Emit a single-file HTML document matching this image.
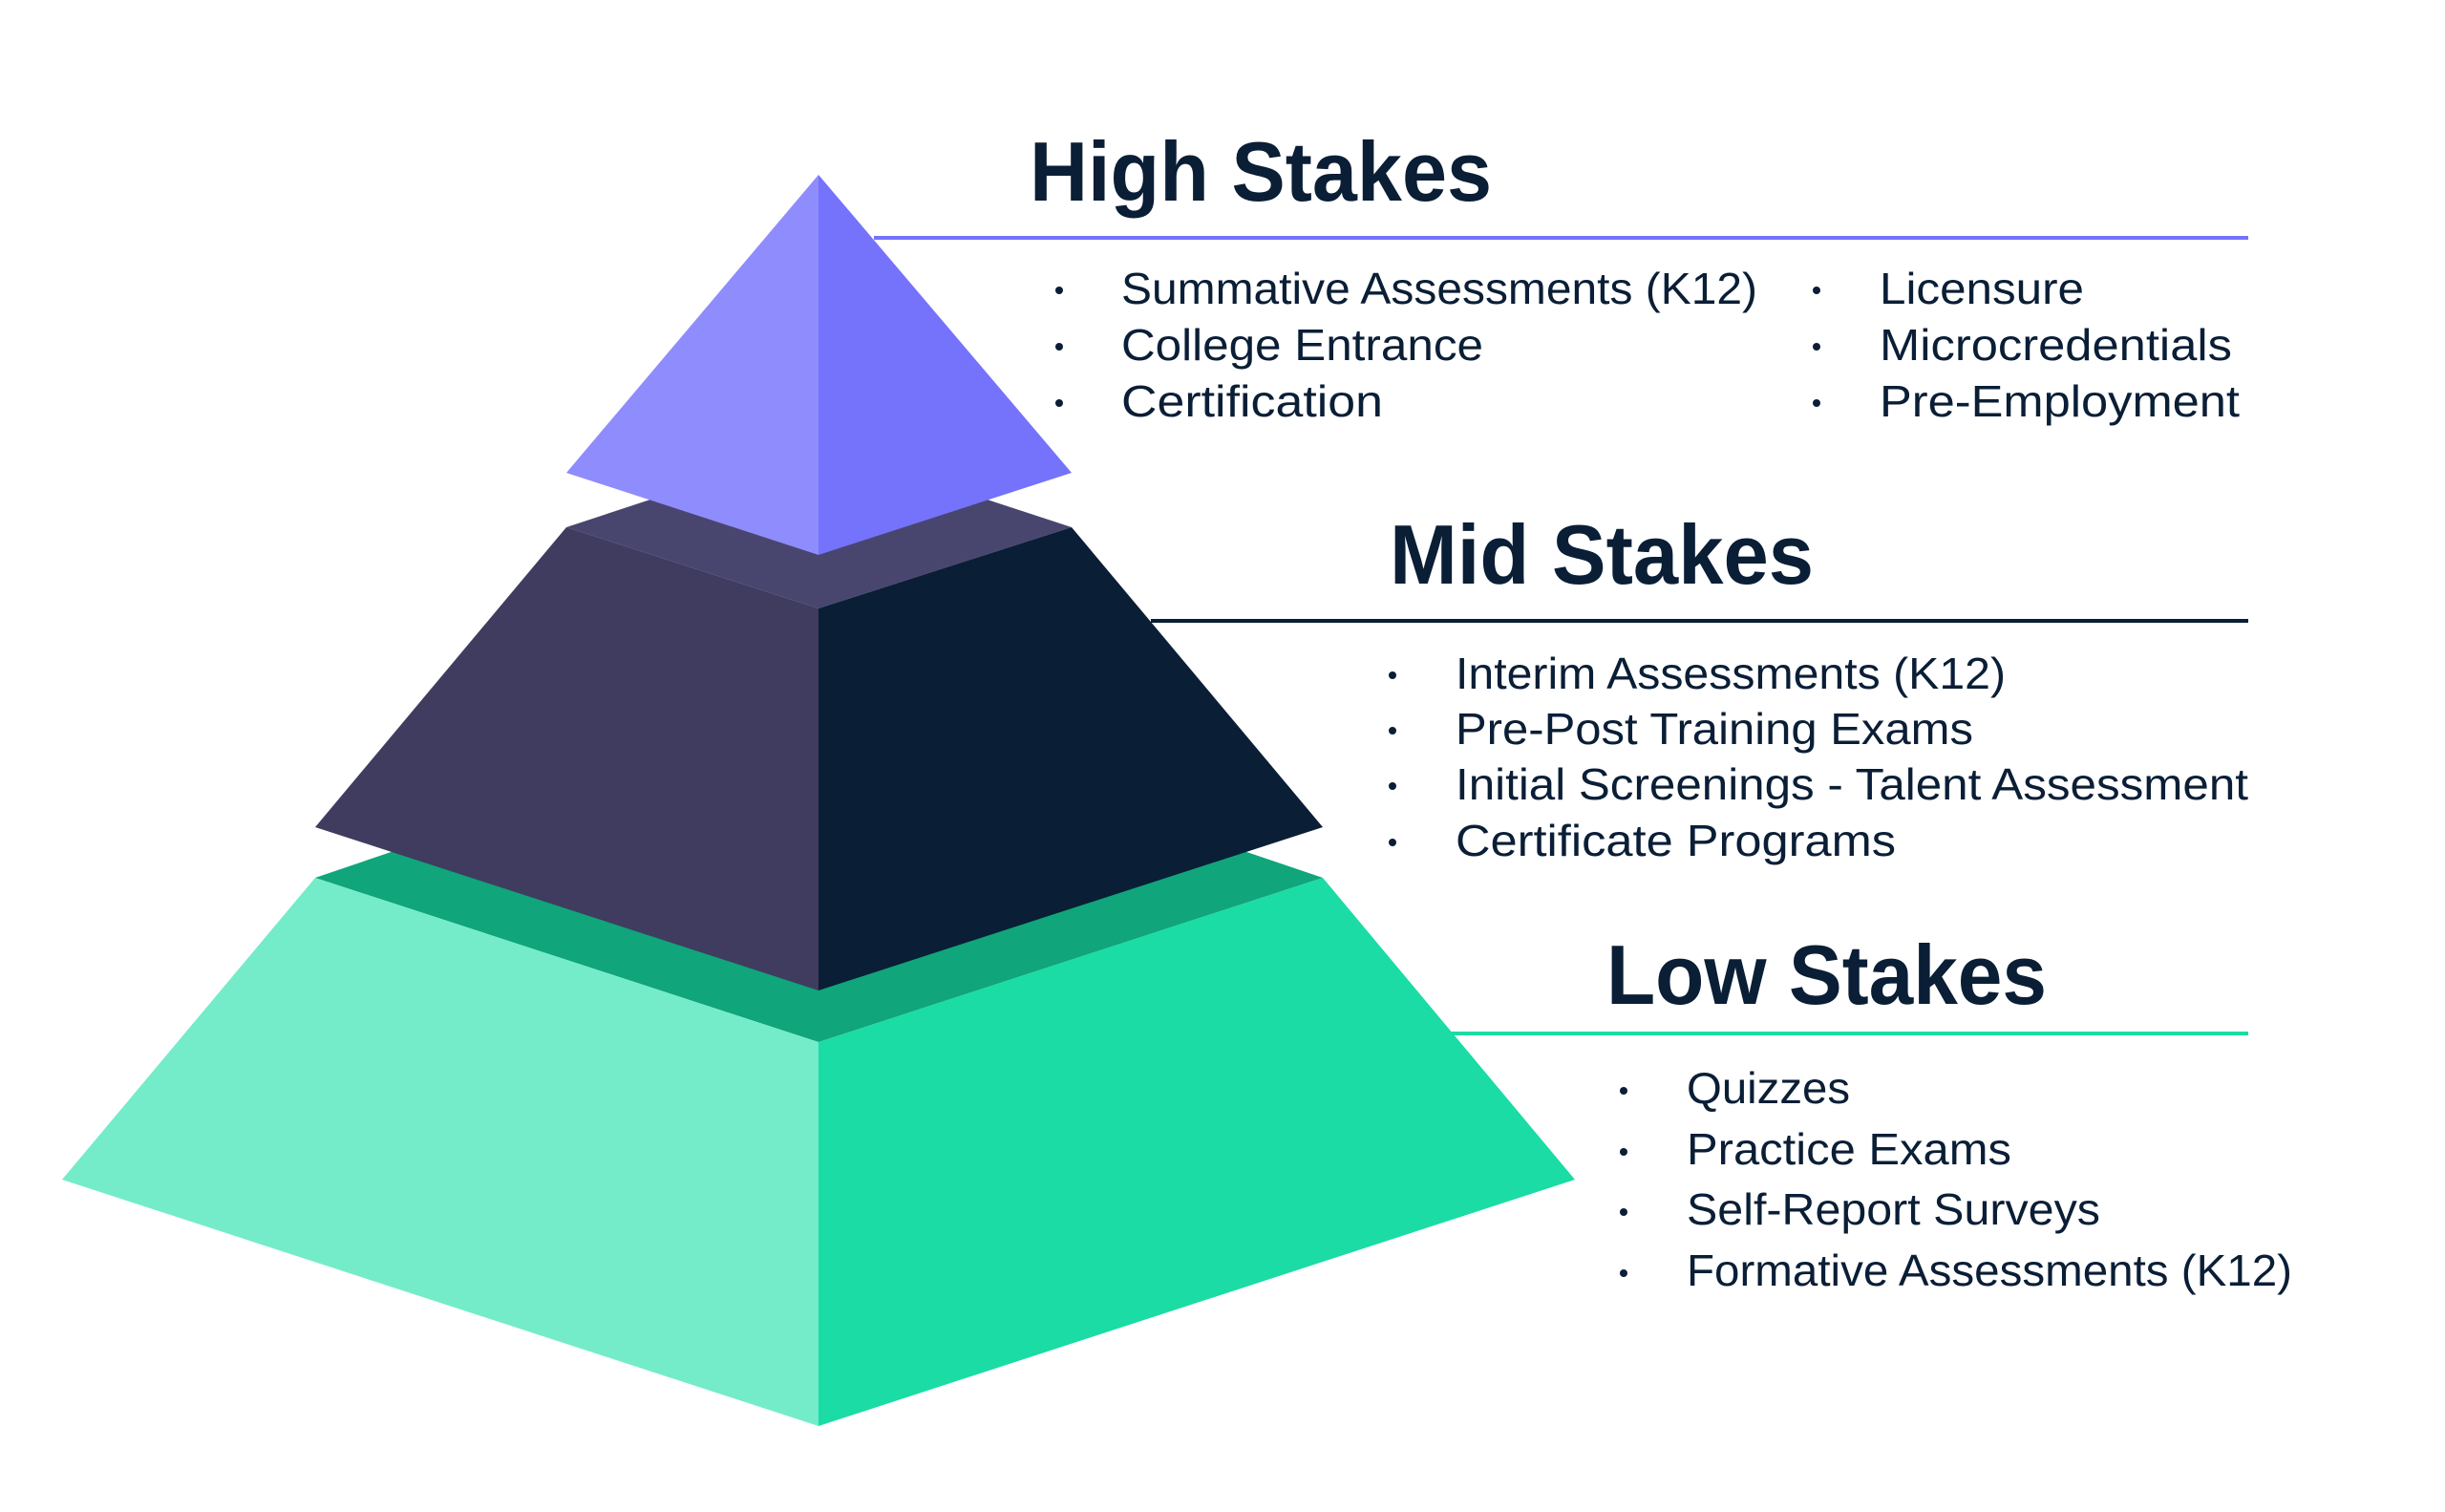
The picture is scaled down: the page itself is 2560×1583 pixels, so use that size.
<!DOCTYPE html>
<html><head><meta charset="utf-8"><style>
html,body{margin:0;padding:0;background:#fff;}
svg{display:block;}
.t{font-family:"Liberation Sans",sans-serif;font-weight:bold;fill:#0a1e36;font-size:88px;}
.i{font-family:"Liberation Sans",sans-serif;fill:#0a1e36;font-size:46px;}
</style></head><body>
<svg width="2560" height="1583" viewBox="0 0 2560 1583" xmlns="http://www.w3.org/2000/svg">
<polygon points="330,919 857,740 1385,919 857,1091" fill="#10a57a"/>
<polygon points="330,919 857,1091 857,1493 65,1235" fill="#74ecc9"/>
<polygon points="1385,919 857,1091 857,1493 1649,1235" fill="#1adca4"/>
<polygon points="593,552 857,465 1122,552 857,637" fill="#48466e"/>
<polygon points="593,552 857,637 857,1037 330,866" fill="#3f3c60"/>
<polygon points="1122,552 857,637 857,1037 1385,866" fill="#0a1e36"/>
<polygon points="857,183 857,581 593,495" fill="#8f8cfd"/>
<polygon points="857,183 857,581 1122,495" fill="#7572fb"/>
<rect x="915" y="247" width="1439" height="4" fill="#7572fb"/>
<rect x="1205" y="648" width="1149" height="4" fill="#0a1e36"/>
<rect x="1519" y="1080" width="835" height="4" fill="#1adca4"/>
<text class="t" x="1078" y="210" textLength="484" lengthAdjust="spacingAndGlyphs">High Stakes</text>
<text class="t" x="1455" y="611" textLength="444" lengthAdjust="spacingAndGlyphs">Mid Stakes</text>
<text class="t" x="1682" y="1051" textLength="461" lengthAdjust="spacingAndGlyphs">Low Stakes</text>
<g fill="#0a1e36">
<circle cx="1109" cy="304" r="4"/><circle cx="1109" cy="363" r="4"/><circle cx="1109" cy="422" r="4"/>
<circle cx="1902" cy="304" r="4"/><circle cx="1902" cy="363" r="4"/><circle cx="1902" cy="422" r="4"/>
<circle cx="1458" cy="707" r="4"/><circle cx="1458" cy="765" r="4"/><circle cx="1458" cy="823" r="4"/><circle cx="1458" cy="882" r="4"/>
<circle cx="1700" cy="1142" r="4"/><circle cx="1700" cy="1206" r="4"/><circle cx="1700" cy="1269" r="4"/><circle cx="1700" cy="1333" r="4"/>
</g>
<text class="i" x="1174" y="318" textLength="666" lengthAdjust="spacingAndGlyphs">Summative Assessments (K12)</text>
<text class="i" x="1174" y="377" textLength="379" lengthAdjust="spacingAndGlyphs">College Entrance</text>
<text class="i" x="1174" y="436" textLength="274" lengthAdjust="spacingAndGlyphs">Certification</text>
<text class="i" x="1968" y="318" textLength="214" lengthAdjust="spacingAndGlyphs">Licensure</text>
<text class="i" x="1968" y="377" textLength="369" lengthAdjust="spacingAndGlyphs">Microcredentials</text>
<text class="i" x="1968" y="436" textLength="377" lengthAdjust="spacingAndGlyphs">Pre-Employment</text>
<text class="i" x="1524" y="721" textLength="576" lengthAdjust="spacingAndGlyphs">Interim Assessments (K12)</text>
<text class="i" x="1524" y="779" textLength="542" lengthAdjust="spacingAndGlyphs">Pre-Post Training Exams</text>
<text class="i" x="1524" y="837" textLength="830" lengthAdjust="spacingAndGlyphs">Initial Screenings - Talent Assessment</text>
<text class="i" x="1524" y="896" textLength="461" lengthAdjust="spacingAndGlyphs">Certificate Programs</text>
<text class="i" x="1766" y="1155" textLength="171" lengthAdjust="spacingAndGlyphs">Quizzes</text>
<text class="i" x="1766" y="1219" textLength="340" lengthAdjust="spacingAndGlyphs">Practice Exams</text>
<text class="i" x="1766" y="1282" textLength="433" lengthAdjust="spacingAndGlyphs">Self-Report Surveys</text>
<text class="i" x="1766" y="1346" textLength="634" lengthAdjust="spacingAndGlyphs">Formative Assessments (K12)</text>
</svg>
</body></html>
